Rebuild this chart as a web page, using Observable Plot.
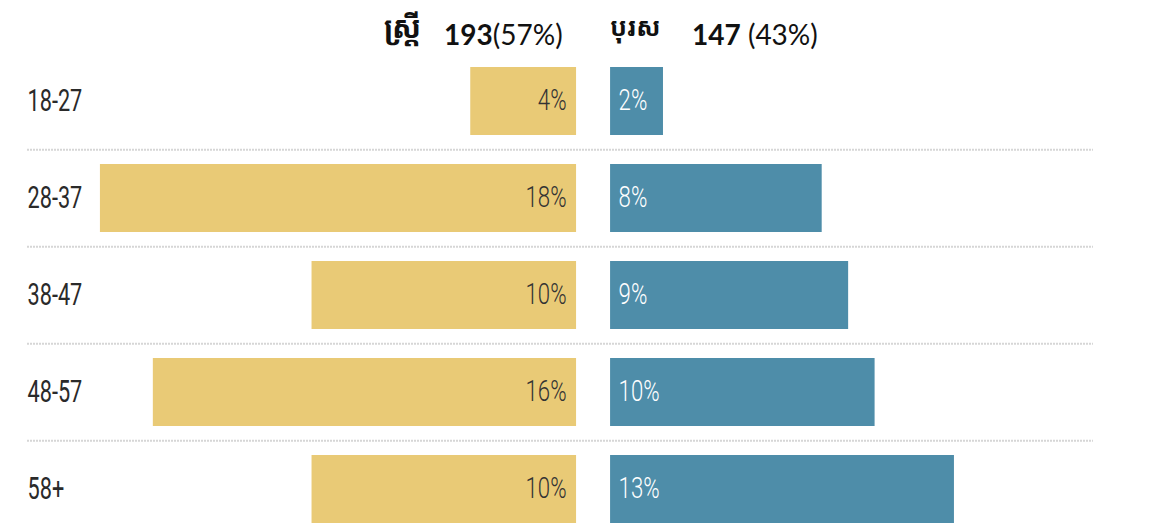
<!DOCTYPE html>
<html>
<head>
<meta charset="utf-8">
<script src="https://cdn.jsdelivr.net/npm/d3@7"></script>
<script src="https://cdn.jsdelivr.net/npm/@observablehq/plot@0.6"></script>
<style>
  html, body { margin: 0; padding: 0; background: #fff; }
  #wrap { width: 1151px; height: 528px; position: relative; overflow: hidden; }
  #head { position: relative; height: 50px; font-family: Lato, "Open Sans", sans-serif; font-size: 28px; color: #111; }
  #head span { position: absolute; top: 0; line-height: 1; white-space: nowrap; }
  .km { font-family: "Noto Sans Khmer", "Khmer OS", "Noto Sans", sans-serif; font-weight: 700; }
  .b { font-weight: 700; }
  #chart svg { display: block; }
</style>
</head>
<body>
<div id="wrap">
  <div id="head"></div>
  <div id="chart"></div>
</div>
<script>
// ---- data ----
const ages = ["18-27", "28-37", "38-47", "48-57", "58+"];
const women = [4, 18, 10, 16, 10];
const men = [2, 8, 9, 10, 13];
const womenLabel = "ស្ត្រី";
const menLabel = "បុរស";
const womenTotal = 193, womenShare = "57%";
const menTotal = 147, menShare = "43%";

// ---- header ----
const head = document.getElementById("head");
head.innerHTML = `
  <span class="km" style="left:384px;top:12px;font-size:30px">${womenLabel}</span>
  <span style="left:444px;top:20px"><span class="b" style="position:static">${womenTotal}</span>(${womenShare})</span>
  <span class="km" style="left:610px;top:14px;font-size:25px">${menLabel}</span>
  <span style="left:692px;top:20px"><span class="b" style="position:static">${menTotal}</span> (${menShare})</span>
`;

// ---- chart ----
const gap = 0.643; // half gap between the two sides (in percent units)
const rows = ages.map((a, i) => ({age: a, w: women[i], m: men[i]}));
const yellow = "#e9ca76", blue = "#4e8da9";
const fnt = "Roboto, sans-serif";

const plot = Plot.plot({
  width: 1151,
  height: 478,
  marginLeft: 27,
  marginRight: 58,
  marginTop: 0,
  marginBottom: 0,
  x: {domain: [-21.40, 18.90], axis: null},
  y: {domain: ages, range: [1, 488], paddingInner: 0.3, paddingOuter: 0.15, axis: null},
  style: {fontFamily: fnt, background: "white"},
  marks: [
    Plot.ruleY(ages.slice(1), {y: d => d, dy: -48.7, stroke: "#d6d6d6", strokeWidth: 2, strokeDasharray: "2,1"}),
    Plot.barX(rows, {y: "age", x1: d => -gap - d.w, x2: -gap, fill: yellow}),
    Plot.barX(rows, {y: "age", x1: gap, x2: d => gap + d.m, fill: blue}),
    Plot.text(rows, {y: "age", x: -gap, dx: -10, dy: -1, text: d => d.w + "%", textAnchor: "end", fill: "#333", fontSize: 30, fontWeight: 300}),
    Plot.text(rows, {y: "age", x: gap, dx: 8, dy: -1, text: d => d.m + "%", textAnchor: "start", fill: "#fff", fontSize: 30, fontWeight: 300}),
    Plot.text(rows, {y: "age", frameAnchor: "left", text: "age", textAnchor: "start", fill: "#2a2a2a", fontSize: 31})
  ]
});
// condense the text horizontally (reference uses a condensed face)
d3.select(plot).selectAll("text").each(function () {
  const fs = parseFloat(this.closest("g").getAttribute("font-size") || "0");
  const k = fs >= 31 ? 0.7 : 0.74;
  const t = this.getAttribute("transform");
  if (t) {
    this.setAttribute("transform", `${t} scale(${k},1)`);
  } else {
    const x = +(this.getAttribute("x") || 0);
    this.setAttribute("transform", `translate(${x},0) scale(${k},1) translate(${-x},0)`);
  }
});
document.getElementById("chart").appendChild(plot);
</script>
</body>
</html>
